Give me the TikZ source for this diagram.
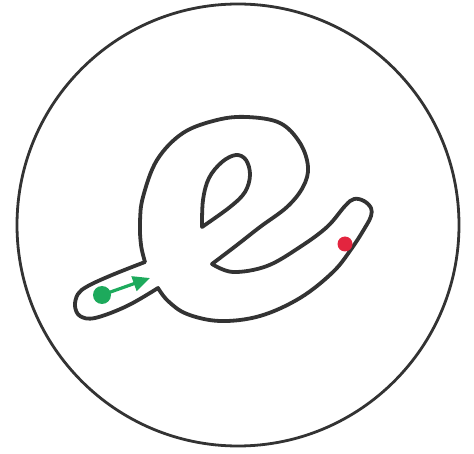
\documentclass[tikz,border=0pt]{standalone}
\usepackage{tikz}
\usepackage{xcolor}
\usetikzlibrary{arrows.meta}
\definecolor{cOutline}{HTML}{333333}
\definecolor{cStart}  {HTML}{1DAA5C}
\definecolor{cEnd}    {HTML}{E3253F}
\tikzset{
  trace/.style={draw=cOutline, line width=3.8pt, line join=round, line cap=round},
  dot/.style={circle, inner sep=0pt, minimum size=#1},
}
\begin{document}
\begin{tikzpicture}[x=1pt, y=-1pt]
        \useasboundingbox (0,0) rectangle (474,454);
        % frame
        \draw[draw=cOutline, line width=2.8pt] (238,225) circle (221);
        % letter e, outer contour
        \draw[trace]
          plot[smooth, tension=0.6] coordinates {(158,288) (127,306) (95,318) (80,316)
                (75,306) (78,294) (88,286) (112,275) (145,262)}
          -- plot[smooth, tension=0.6] coordinates {(145,262) (141,245) (140,222) (143,197)
                (157,160) (183,133) (217,120) (247,117) (280,123) (300,143) (308,167)
                (303,187) (287,207) (260,227) (237,245) (212,264)}
          -- plot[smooth, tension=0.6] coordinates {(212,264) (233,272) (267,266) (300,247)
                (327,227) (345,206) (354,199) (364,201) (371,208) (371,216) (366,226)
                (352,248) (333,272) (300,298) (260,316) (220,321) (187,314) (168,301)
                (158,288)} -- cycle;
        % letter e, inner loop
        \draw[trace]
          plot[smooth, tension=0.6] coordinates {(202,227) (203,200) (209,178) (222,162)
                (236,155) (246,160) (250,175) (245,192) (230,207) (202,227)} -- cycle;
        % start and end of the stroke
        \node[dot=18pt, fill=cStart] (start) at (102,295) {};
        \coordinate (heading) at (150,278);
        \draw[-{Triangle[length=17pt, width=15pt]}, draw=cStart, fill=cStart,
              line width=3.2pt] (start.center) -- (heading);
        \node[dot=15pt, fill=cEnd] (finish) at (345,244) {};
      \end{tikzpicture}
\end{document}
